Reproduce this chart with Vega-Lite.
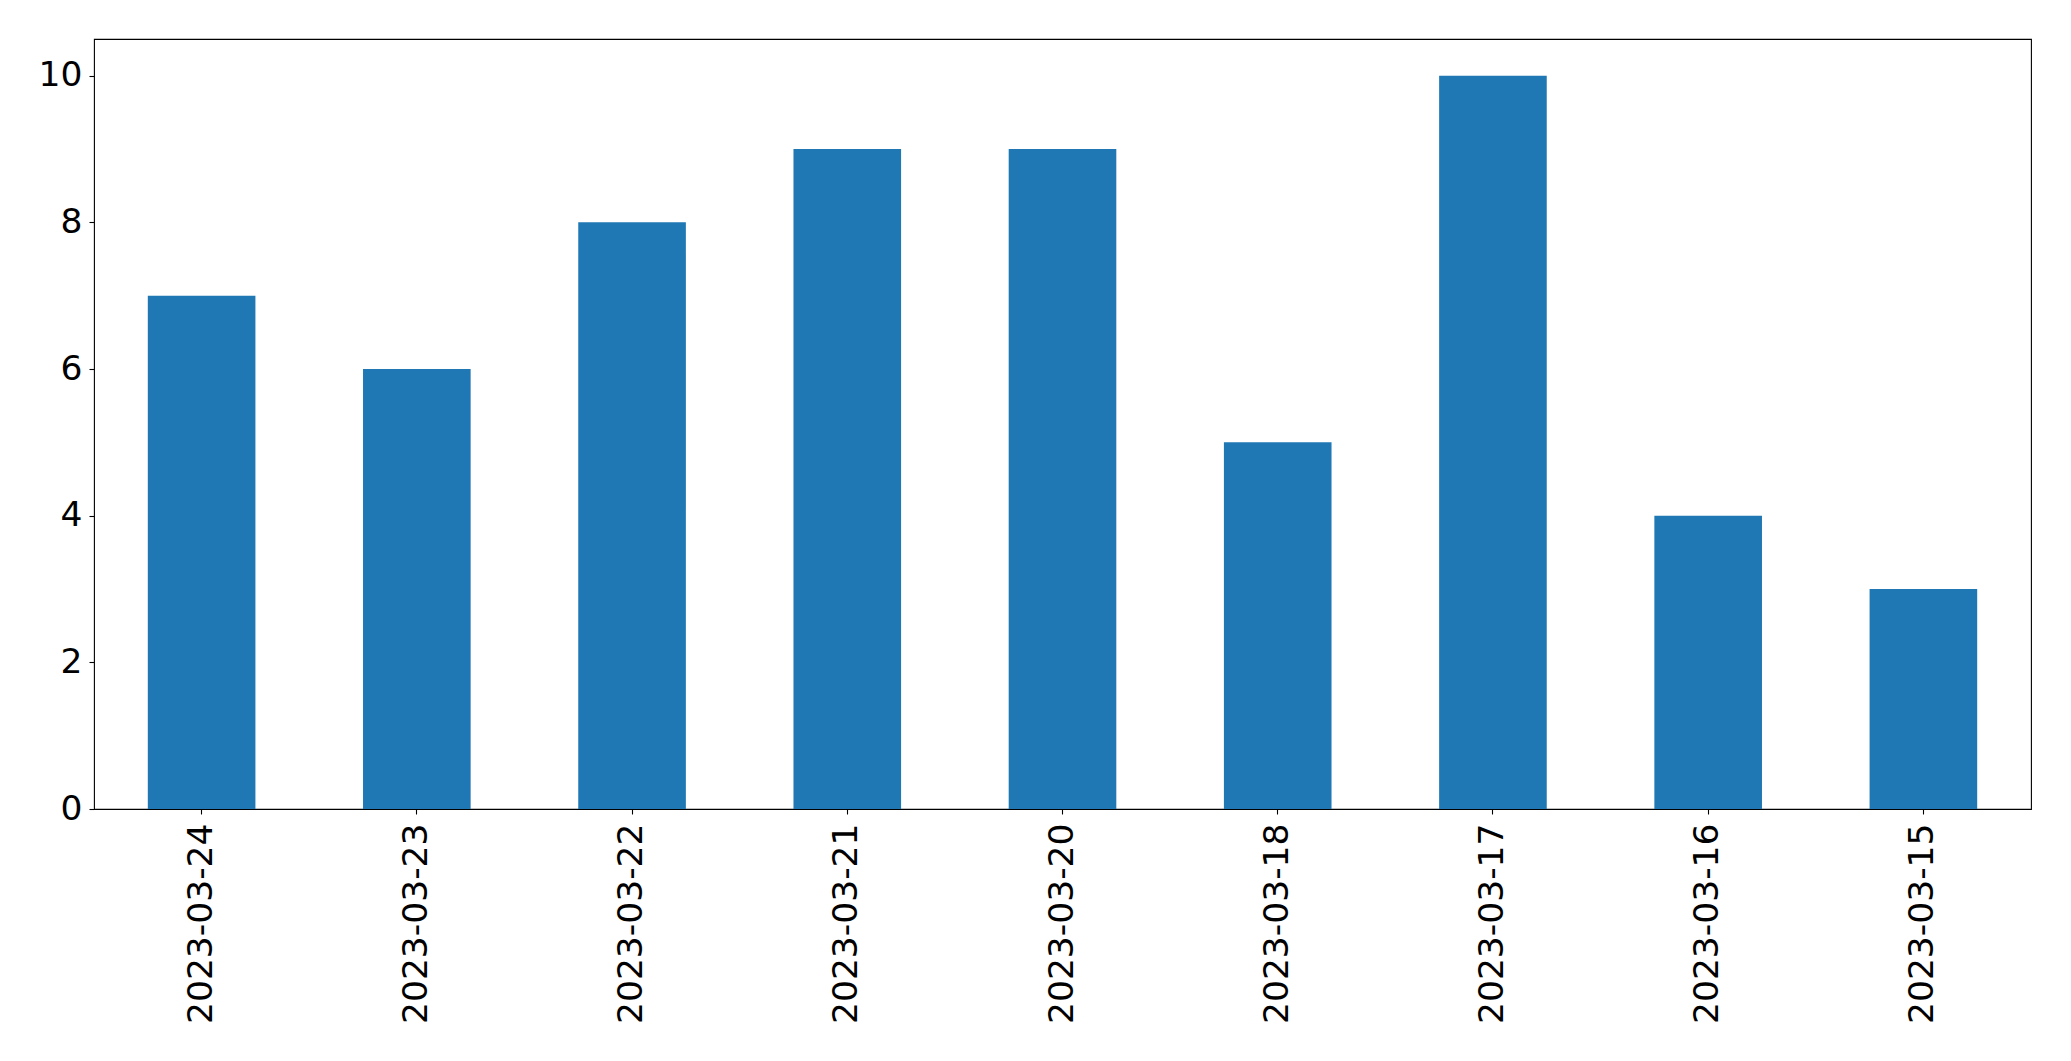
{
  "$schema": "https://vega.github.io/schema/vega-lite/v6.json",
  "autosize": {"type": "none"},
  "padding": {"left": 94, "top": 39, "right": 40, "bottom": 252},
  "width": 1937,
  "height": 770,
  "background": "white",
  "config": {
    "view": {"stroke": "black", "strokeWidth": 1.1},
    "axis": {
      "grid": false,
      "domain": false,
      "labelFont": "DejaVu Sans",
      "labelFontSize": 34.5,
      "labelColor": "black",
      "labelLimit": 0,
      "tickColor": "black",
      "tickWidth": 1.1,
      "tickSize": 5,
      "title": null
    }
  },
  "data": {
    "values": [
      {"date": "2023-03-24", "count": 7},
      {"date": "2023-03-23", "count": 6},
      {"date": "2023-03-22", "count": 8},
      {"date": "2023-03-21", "count": 9},
      {"date": "2023-03-20", "count": 9},
      {"date": "2023-03-18", "count": 5},
      {"date": "2023-03-17", "count": 10},
      {"date": "2023-03-16", "count": 4},
      {"date": "2023-03-15", "count": 3}
    ]
  },
  "mark": {"type": "bar", "color": "#1f77b4"},
  "encoding": {
    "x": {
      "field": "date",
      "type": "nominal",
      "sort": null,
      "scale": {"paddingInner": 0.5, "paddingOuter": 0.25},
      "axis": {"labelAngle": -90, "labelAlign": "right", "labelBaseline": "middle", "labelPadding": 9}
    },
    "y": {
      "field": "count",
      "type": "quantitative",
      "scale": {"domain": [0, 10.5], "nice": false},
      "axis": {"values": [0, 2, 4, 6, 8, 10], "labelPadding": 7}
    }
  }
}
